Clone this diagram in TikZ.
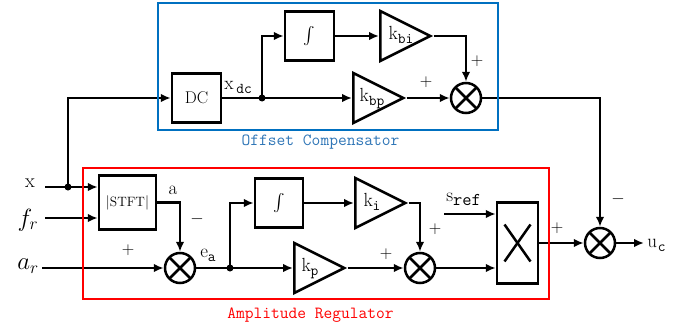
\documentclass[tikz,border=0pt]{standalone}
\usepackage{exscale}
\usetikzlibrary{arrows.meta,shapes.geometric,calc}
\definecolor{boxblue}{RGB}{0,112,192}
\definecolor{capblue}{RGB}{46,117,182}
\definecolor{boxred}{RGB}{255,0,0}
\newcommand{\fsz}[1]{\fontsize{#1}{#1}\selectfont}
\newcommand{\sv}[3][15]{{\fsz{19}#2}{\fsz{#1}\ttfamily\raisebox{-4pt}{#3}}}
\begin{document}
\begin{tikzpicture}[x=1pt,y=-1pt,
  line width=2.5pt,
  >={Latex[length=10pt,width=8.5pt]},
  blk/.style={draw, rectangle, line width=2.5pt, inner sep=0pt},
  gain/.style={draw, isosceles triangle, isosceles triangle stretches, minimum width=50pt, minimum height=50pt, inner sep=0pt, line width=2.5pt, anchor=lower side},
  sumc/.style={draw, circle, minimum size=30pt, inner sep=0pt, line width=2.5pt},
  dot/.style={circle, fill, inner sep=0pt, minimum size=7pt},
  lbl/.style={inner sep=0pt},
  sgn/.style={inner sep=0pt, font=\fsz{16}},
  outerbox/.style={draw, line width=2.2pt},
]
\useasboundingbox (0,0) rectangle (694,332);

% blocks
\node[blk, minimum width=49pt, minimum height=49pt, font=\fsz{17}] (dc) at (196.5,98) {DC};
\node[blk, minimum width=49pt, minimum height=49pt, font=\fsz{16}] (int1) at (309.5,36) {$\int$};
\node[gain] (kbi) at (379,36) {};
\node[gain] (kbp) at (352,98) {};
\node[sumc] (s1) at (466,98) {};

\node[blk, minimum width=57pt, minimum height=54pt, font=\fsz{13.5}] (stft) at (127.5,202.5) {$|$STFT$|$};
\node[sumc] (s2) at (180,268) {};
\node[blk, minimum width=48pt, minimum height=49pt, font=\fsz{16}] (int2) at (279,203) {$\int$};
\node[gain] (ki) at (354,203) {};
\node[gain] (kp) at (293,268) {};
\node[sumc] (s3) at (420,268) {};
\node[blk, minimum width=41pt, minimum height=81pt] (mult) at (517.5,243) {};
\node[sumc] (s4) at (600,243) {};

% crosses
\foreach \s in {s1,s2,s3,s4}{
  \draw ($(\s.center)+(-10.6,-10.6)$) -- ($(\s.center)+(10.6,10.6)$);
  \draw ($(\s.center)+(-10.6,10.6)$) -- ($(\s.center)+(10.6,-10.6)$);
}
\draw ($(mult.center)+(-13,-18.5)$) -- ($(mult.center)+(13,18.5)$);
\draw ($(mult.center)+(13,-18.5)$) -- ($(mult.center)+(-13,18.5)$);

% gain labels
\node[lbl, anchor=base] (kbiT) at (401,39.5) {\sv{k}{bi}};
\node[lbl, anchor=base] (kbpT) at (372,101.5) {\sv{k}{bp}};
\node[lbl, anchor=base] (kiT) at (372,206.5) {\sv{k}{i}};
\node[lbl, anchor=base] (kpT) at (310,271.5) {\sv{k}{p}};

% dots
\node[dot] (jdc) at (262,98) {};
\node[dot] (jea) at (230,268) {};
\node[dot] (jx) at (68,187) {};

% inputs
\node[lbl, font=\fsz{20}] (xl) at (30,183) {x};
\node[lbl] (frl) at (28,220) {\fsz{23}$f_r$};
\node[lbl] (arl) at (28,266) {\fsz{23}$a_r$};
\coordinate (xs) at (45,187);
\coordinate (fs) at (45,218);
\coordinate (as) at (42,268);
\coordinate (srs) at (444,214);
\coordinate (uo) at (644,243);

% connectors: offset compensator
\draw[->] (jx.center) |- (dc.west);
\draw (dc.east) -- (jdc.center);
\draw[->] (jdc.center) -- (kbp.lower side);
\draw[->] (jdc.center) |- (int1.west);
\draw[->] (int1.east) -- (kbi.lower side);
\draw[->] (kbi.apex) -| (s1.north);
\draw[->] (kbp.apex) -- (s1.west);
\draw[->] (s1.east) -| (s4.north);

% connectors: amplitude regulator
\draw[->] (xs) -- (xs -| stft.west);
\draw[->] (fs) -- (fs -| stft.west);
\draw[->] (as) -- (s2.west);
\draw[->] (stft.east) -| (s2.north);
\draw (s2.east) -- (jea.center);
\draw[->] (jea.center) -- (kp.lower side);
\draw[->] (jea.center) |- (int2.west);
\draw[->] (int2.east) -- (ki.lower side);
\draw[->] (ki.apex) -| (s3.north);
\draw[->] (kp.apex) -- (s3.west);
\draw[->] (s3.east) -- (s3.east -| mult.west);
\draw[->] (srs) -- (srs -| mult.west);
\draw[->] (mult.east) -- (s4.west);
\draw[->] (s4.east) -- (uo);

% signal labels
\node[lbl, anchor=base west] (xdcT) at (223,89) {\sv{x}{\kern3pt dc}};
\node[lbl, font=\fsz{19}] (aT) at (173,190) {a};
\node[lbl, anchor=base west] (eaT) at (199,257) {\sv{e}{a}};
\node[lbl, anchor=base west] (srT) at (445,201) {\sv[18]{s}{ref}};
\node[lbl, anchor=base west] (ucT) at (646,247) {\sv{u}{\kern1pt c}};

% signs
\node[sgn] (p1) at (477,61) {$+$};
\node[sgn] (p2) at (426,82) {$+$};
\node[sgn] (p3) at (128,250) {$+$};
\node[sgn] (m1) at (197,219) {$-$};
\node[sgn] (p4) at (435,229) {$+$};
\node[sgn] (p5) at (386,254) {$+$};
\node[sgn] (p6) at (557,228) {$+$};
\node[sgn] (m2) at (618,199) {$-$};

% enclosing boxes
\draw[outerbox, draw=boxblue] (158,3) rectangle (498,130);
\node[lbl, text=capblue, font=\fsz{17}\ttfamily] (oc) at (320.5,142) {Offset Compensator};
\draw[outerbox, draw=boxred] (83,168) rectangle (549,299);
\node[lbl, text=boxred, font=\fsz{17}\ttfamily] (ar) at (310.5,315) {Amplitude Regulator};
\end{tikzpicture}
\end{document}
